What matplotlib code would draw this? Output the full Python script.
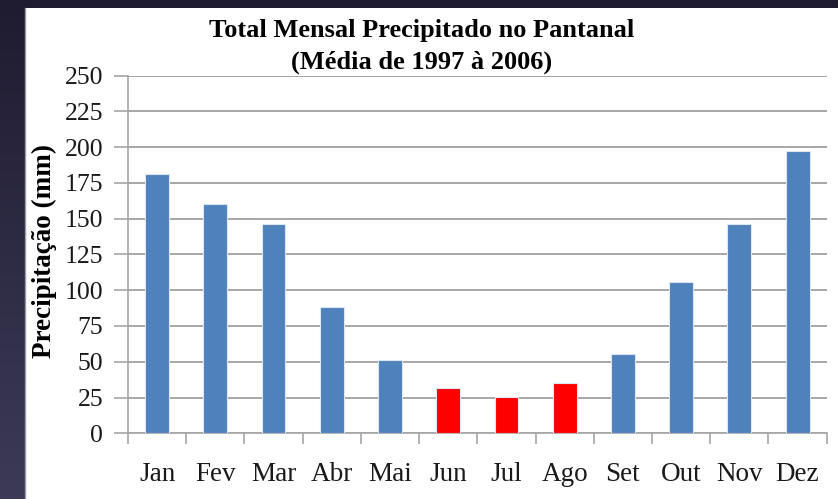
import numpy as np
import matplotlib
matplotlib.use("Agg")
import matplotlib.pyplot as plt
from matplotlib.patches import Rectangle
from matplotlib.colors import LinearSegmentedColormap

# ---------------------------------------------------
# Daten
# ---------------------------------------------------
meses = ["Jan", "Fev", "Mar", "Abr", "Mai", "Jun",
         "Jul", "Ago", "Set", "Out", "Nov", "Dez"]
precip = [181, 160, 146, 88.5, 51, 32, 25.5, 35.5, 55.5, 105.5, 146, 197]
seco = ["Jun", "Jul", "Ago"]          # Meses secos em vermelho

AZUL = "#4f81bd"
VERMELHO = "#ff0000"

plt.rcParams["font.family"] = ["Liberation Serif", "DejaVu Serif"]

W, H = 838, 499
fig = plt.figure(figsize=(W / 100, H / 100), dpi=100)

# ---------------------------------------------------
# Fundo escuro com gradiente + area branca
# ---------------------------------------------------
bg = fig.add_axes([0, 0, 1, 1], zorder=-10)
grad = np.linspace(0, 1, 256).reshape(-1, 1)
cmap = LinearSegmentedColormap.from_list("bg", ["#1f1c31", "#3c3a57"])
bg.imshow(grad, aspect="auto", cmap=cmap, extent=[0, 1, 0, 1], origin="upper")
bg.set_xlim(0, 1)
bg.set_ylim(0, 1)
bg.axis("off")
bg.add_patch(Rectangle((25 / W, 0), 1 - 25 / W, 1 - 8 / H,
                       facecolor="white", edgecolor="none"))
bg.plot([25 / W, 25 / W], [0, 1 - 8 / H], color="#9a9aa8", lw=1)

# ---------------------------------------------------
# Grafico
# ---------------------------------------------------
ax = fig.add_axes([128 / W, 1 - 433.3 / H, (826.7 - 128) / W, (433.3 - 75.6) / H])
ax.patch.set_alpha(0)

x = np.arange(len(meses))
cores = [VERMELHO if m in seco else AZUL for m in meses]
ax.bar(x, precip, width=0.41, color=cores,
       edgecolor="#dce6f2", linewidth=0.8, zorder=3)

ax.set_xlim(-0.5, len(meses) - 0.5)
ax.set_ylim(0, 250)
ax.set_yticks(np.arange(0, 251, 25))
ax.yaxis.grid(True, color="#a6a6a6", linewidth=1.4, zorder=0)
ax.set_axisbelow(True)

ax.set_xticks(x)
ax.set_xticklabels(meses, fontsize=19.5, color="#1a1a1a")
ax.set_xticks(np.arange(-0.5, len(meses), 1), minor=True)
ax.tick_params(axis="x", which="major", length=0, pad=21)
ax.tick_params(axis="x", which="minor", length=8, width=1.2, color="#a6a6a6")
ax.tick_params(axis="y", length=10, width=1.2, color="#a6a6a6",
               labelsize=18.5, labelcolor="#1a1a1a", pad=8)

for s in ["top", "right"]:
    ax.spines[s].set_visible(False)
for s in ["left", "bottom"]:
    ax.spines[s].set_color("#a6a6a6")
    ax.spines[s].set_linewidth(1.2)

fig.text(44 / W, 1 - 251 / H, "Precipitação (mm)", rotation=90,
         fontsize=19.5, fontweight="bold", ha="center", va="center")

fig.text(422 / W, 1 - 30 / H, "Total Mensal Precipitado no Pantanal",
         fontsize=19, fontweight="bold", ha="center", va="center")
fig.text(422 / W, 1 - 62 / H, "(Média de 1997 à 2006)",
         fontsize=19, fontweight="bold", ha="center", va="center")

fig.savefig("out.png", dpi=100)
